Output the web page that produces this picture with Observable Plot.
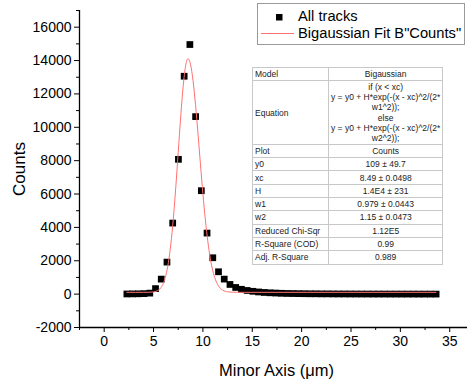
<!DOCTYPE html>
<html><head><meta charset="utf-8">
<script src="https://cdn.jsdelivr.net/npm/d3@7"></script>
<script src="https://cdn.jsdelivr.net/npm/@observablehq/plot@0.6"></script>
<style>
body{margin:0;background:#fff;font-family:"Liberation Sans",Arial,sans-serif;}
#wrap{position:relative;width:468px;height:385px;}
#legend{position:absolute;left:257px;top:3px;width:208px;height:42px;border:1px solid #9a9a9a;background:#fff;box-sizing:border-box;font-size:14.7px;color:#000;}
#legend .row{position:absolute;left:0;height:17px;line-height:17px;}
#tbl{position:absolute;left:252px;top:67px;border-collapse:collapse;font-size:8.5px;color:#222;background:#fff;border:1px solid #8c8c8c;}
#tbl td{border:1px solid #c8c8c8;padding:0 2px;height:12.3px;line-height:10px;white-space:nowrap;}
#tbl td.v{text-align:center;}
</style></head>
<body><div id="wrap"></div>
<script>
const minorAxis = [2.30,2.88,3.46,4.04,4.62,5.20,5.78,6.36,6.94,7.52,8.10,8.68,9.26,9.84,10.42,11.00,11.58,12.16,12.74,13.32,13.90,14.48,15.06,15.64,16.22,16.80,17.38,17.96,18.54,19.12,19.70,20.28,20.86,21.44,22.02,22.60,23.18,23.76,24.34,24.92,25.50,26.08,26.66,27.24,27.82,28.40,28.98,29.56,30.14,30.72,31.30,31.88,32.46,33.04,33.62];
const counts = [10,15,20,30,60,330,900,1920,4260,8080,13060,14960,10640,6200,3660,2180,1340,900,580,400,290,220,170,130,100,80,65,50,40,35,30,25,20,20,15,15,12,10,10,8,8,6,6,5,5,5,4,4,3,3,3,2,2,2,2];
const fitX = [2.3,4.0,4.5,5.0,5.25,5.5,5.75,6.0,6.25,6.5,6.75,7.0,7.25,7.5,7.75,8.0,8.25,8.37,8.49,8.6,8.75,9.0,9.25,9.5,9.75,10.0,10.25,10.5,10.75,11.0,11.25,11.5,11.75,12.0,12.5,13.0,13.5,14.0,33.6];
const fitY = [109,109,112,133,168,241,388,661,1130,1882,2994,4505,6387,8505,10630,12461,13695,14004,14109,14045,13756,12797,11362,9629,7791,6021,4449,3148,2139,1402,895,564,361,242,141,115,110,109,109];
const xTicks = [0,5,10,15,20,25,30,35];
const xMinor = [-2.5,2.5,7.5,12.5,17.5,22.5,27.5,32.5];
const yTicks = [-2000,0,2000,4000,6000,8000,10000,12000,14000,16000];
const yMinor = [-1000,1000,3000,5000,7000,9000,11000,13000,15000,17000];
const legendLabels = ["All tracks", "Bigaussian Fit B\"Counts\""];
const tableNames = ["Model","Equation","Plot","y0","xc","H","w1","w2","Reduced Chi-Sqr","R-Square (COD)","Adj. R-Square"];
const tableValues = ["Bigaussian","if (x < xc)\ny = y0 + H*exp(-(x - xc)^2/(2*\nw1^2));\nelse\ny = y0 + H*exp(-(x - xc)^2/(2*\nw2^2));","Counts","109 ± 49.7","8.49 ± 0.0498","1.4E4 ± 231","0.979 ± 0.0443","1.15 ± 0.0473","1.12E5","0.99","0.989"];

const pts = minorAxis.map((x,i)=>({x, y:counts[i]}));
const fit = fitX.map((x,i)=>({x, y:fitY[i]}));

const chart = Plot.plot({
  width:468, height:385,
  marginLeft:79, marginRight:1, marginTop:10, marginBottom:58,
  style:{fontFamily:"'Liberation Sans', Arial, sans-serif", fontSize:"14px", color:"#000", background:"transparent"},
  x:{domain:[-2.5,36.8]},
  y:{domain:[-2000,17000]},
  marks:[
    Plot.axisX({ticks:xTicks, tickSize:5, tickPadding:4, label:null, fontSize:14}),
    Plot.axisX({ticks:xMinor, tickSize:3, text:null, label:null}),
    Plot.axisY({ticks:yTicks, tickSize:5, tickPadding:3, label:null, fontSize:14, tickFormat:d=>String(d)}),
    Plot.axisY({ticks:yMinor, tickSize:3, text:null, label:null}),
    Plot.ruleX([-2.5], {stroke:"#000", strokeWidth:1.3}),
    Plot.ruleY([-2000], {stroke:"#000", strokeWidth:1.3}),
    Plot.dot(pts, {x:"x", y:"y", symbol:"square", r:3.8, fill:"#000", stroke:"none"}),
    Plot.line(fit, {x:"x", y:"y", stroke:"#ff7070", strokeWidth:1, curve:"monotone-x"}),
    Plot.text(["Counts"], {frameAnchor:"left", dx:-60, rotate:-90, text:d=>d, fontSize:17, textAnchor:"middle", lineAnchor:"middle"}),
    Plot.text(["Minor Axis (μm)"], {frameAnchor:"bottom", dx:3, dy:43, text:d=>d, fontSize:16.5, textAnchor:"middle", lineAnchor:"middle"})
  ]
});
const wrap = document.getElementById("wrap");
wrap.appendChild(chart);

// legend
const lg = document.createElement("div");
lg.id = "legend";
lg.innerHTML = `
<svg width="40" height="40" style="position:absolute;left:0;top:0">
 <rect x="18" y="10" width="6.5" height="6.5" fill="#000"/>
 <line x1="3" x2="36" y1="29.5" y2="29.5" stroke="#ff7070" stroke-width="1"/>
</svg>
<div class="row" style="left:40px;top:4px">${legendLabels[0]}</div>
<div class="row" style="left:40px;top:21px">${legendLabels[1]}</div>`;
wrap.appendChild(lg);

// table
const tbl = document.createElement("table");
tbl.id = "tbl";
tableNames.forEach((n,i)=>{
  const tr = document.createElement("tr");
  const a = document.createElement("td"); a.textContent = n; a.style.width="71px";
  const b = document.createElement("td"); b.className="v"; b.style.width="88px";
  b.innerHTML = tableValues[i].split("\n").join("<br>");
  if (i===1) { b.style.lineHeight="10.1px"; b.style.padding="1px 2px"; }
  tr.appendChild(a); tr.appendChild(b); tbl.appendChild(tr);
});
wrap.appendChild(tbl);
</script></body></html>
